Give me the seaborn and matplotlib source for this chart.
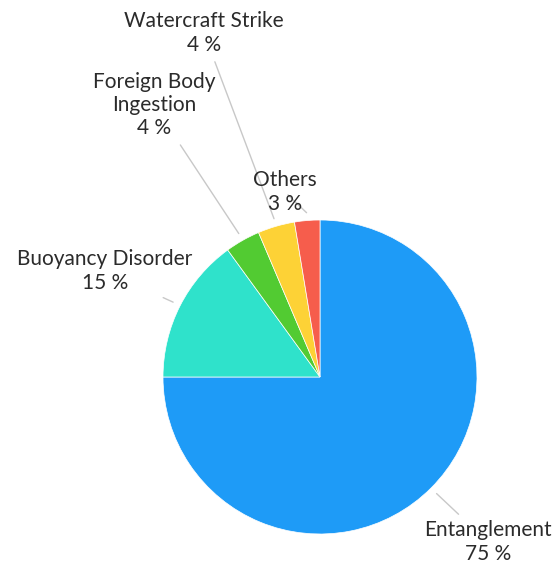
import numpy as np
import matplotlib
matplotlib.use("Agg")
import matplotlib.pyplot as plt
import seaborn as sns

# Data
causes = ["Entanglement", "Buoyancy Disorder", "Foreign Body\nIngestion", "Watercraft Strike", "Others"]
shares = [75.0, 15.0, 3.6, 3.8, 2.6]
colors = ["#1E9BF7", "#2FE2CB", "#52CB32", "#FDD236", "#F65D4C"]

# label text centres in pixels (layout only)
label_px = [(488, 542), (105, 271), (154, 105), (204, 33), (285, 192)]

sns.set_theme(style="white")
plt.rcParams["font.family"] = ["Lato", "DejaVu Sans"]

W, H = 556, 563
cx, cy, R = 320, 377, 157
fig = plt.figure(figsize=(W / 100, H / 100), dpi=100)
ax = fig.add_axes([0, 0, 1, 1])

wedges, _ = ax.pie(shares, colors=sns.color_palette(colors), startangle=90, counterclock=False,
                   wedgeprops=dict(edgecolor="white", linewidth=0.5))

ax.set_xlim(-cx / R, (W - cx) / R)
ax.set_ylim(-(H - cy) / R, cy / R)
ax.set_aspect("equal")
ax.axis("off")

for w, name, val, (px, py) in zip(wedges, causes, shares, label_px):
    ang = np.deg2rad((w.theta1 + w.theta2) / 2)
    xy = (1.05 * np.cos(ang), 1.05 * np.sin(ang))
    tx, ty = (px - cx) / R, (cy - py) / R
    ax.annotate(f"{name}\n{round(val)} %", xy=xy, xytext=(tx, ty),
                ha="center", va="center", fontsize=15, color="#2b2b2b",
                linespacing=1.2,
                arrowprops=dict(arrowstyle="-", color="#c8c8c8", lw=1, shrinkA=3, shrinkB=0))

fig.savefig("out.png", dpi=100)
